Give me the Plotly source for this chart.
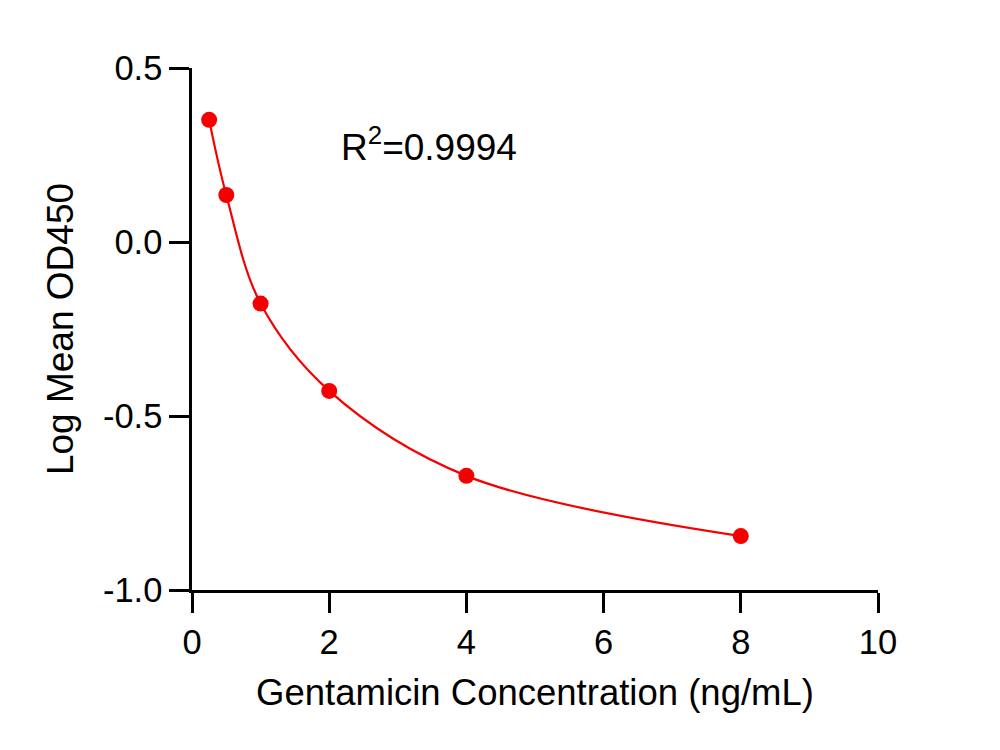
import plotly.graph_objects as go

concentration = [0.25, 0.5, 1, 2, 4, 8]
log_mean_od450 = [0.351, 0.135, -0.177, -0.428, -0.672, -0.845]
x_ticks = [0, 2, 4, 6, 8, 10]
y_ticks = [-1.0, -0.5, 0.0, 0.5]
r2_label = "R<sup>2</sup>=0.9994"

RED = "#f50000"
FONT = "Liberation Sans, Arial, sans-serif"

fig = go.Figure()
fig.add_trace(go.Scatter(
    x=concentration, y=log_mean_od450, mode="lines",
    line=dict(color=RED, width=2.2, shape="spline", smoothing=1.0),
    showlegend=False, hoverinfo="skip"))
fig.add_trace(go.Scatter(
    x=concentration, y=log_mean_od450, mode="markers",
    marker=dict(color=RED, size=16, line=dict(width=0)),
    showlegend=False))

fig.add_annotation(x=2.15, y=0.279, xref="x", yref="y", text=r2_label,
                   showarrow=False, xanchor="left", yanchor="middle",
                   font=dict(family=FONT, size=37, color="black"))

axis_common = dict(showline=True, linecolor="black", linewidth=2.5,
                   ticks="outside", ticklen=20, tickwidth=2.5, tickcolor="black",
                   showgrid=False, zeroline=False,
                   tickfont=dict(family=FONT, size=34.5, color="black"))

fig.update_xaxes(range=[0, 10], tickvals=x_ticks, ticktext=[str(v) for v in x_ticks],
                 title=dict(text="Gentamicin Concentration (ng/mL)",
                            font=dict(family=FONT, size=36.5, color="black"), standoff=20),
                 **axis_common)
fig.update_yaxes(range=[-1.0, 0.5], tickvals=y_ticks, ticktext=[f"{v:.1f}" for v in y_ticks],
                 title=dict(text="Log Mean OD450",
                            font=dict(family=FONT, size=37, color="black"), standoff=18),
                 **axis_common)

fig.update_layout(width=1000, height=750, margin=dict(l=192, r=122, t=68, b=160, autoexpand=False),
                  plot_bgcolor="white", paper_bgcolor="white",
                  font=dict(family=FONT, color="black"))

fig.write_html("out.html")
